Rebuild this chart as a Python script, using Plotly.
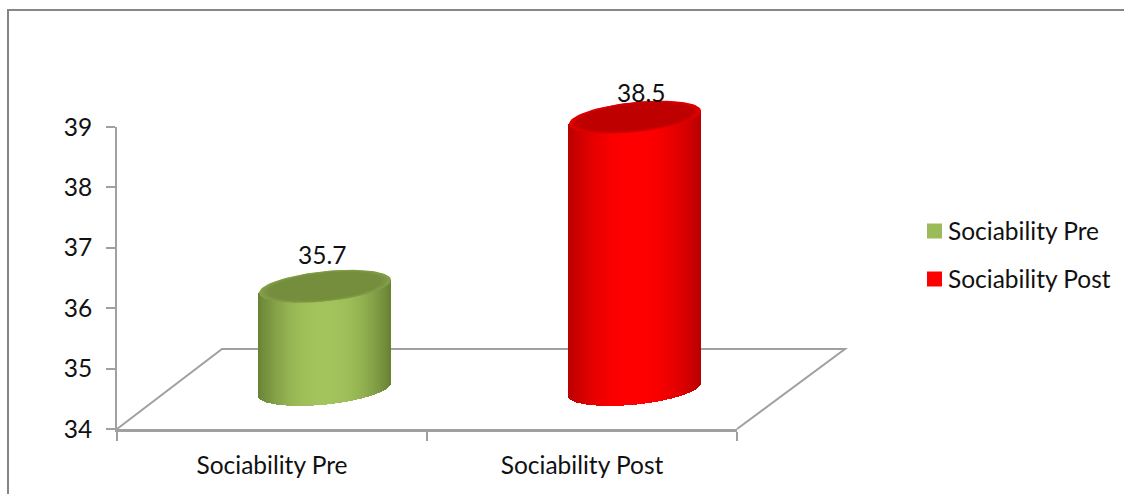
import numpy as np
import plotly.graph_objects as go

# Chart data
categories = ["Sociability Pre", "Sociability Post"]
values = [35.7, 38.5]
y_ticks = [34, 35, 36, 37, 38, 39]

# Colour ramps for the cylinders: edge, centre, lid rim, lid centre
SERIES_STYLE = [
    dict(edge=(104, 130, 52), mid=(163, 196, 92), rim=(132, 160, 72), lid=(117, 142, 62), swatch="#9bbb59"),
    dict(edge=(185, 0, 0), mid=(255, 0, 0), rim=(226, 0, 0), lid=(190, 0, 0), swatch="#ff0000"),
]

W, H = 1124, 494
FONT = "Lato"
FS = 24.5
TEXT = "#111111"
AXIS = "#a0a0a0"

# Front plane of the chart, in pixels
LEFT, RIGHT, BASE, TOP = 117, 737, 429, 127
PX_Y = (BASE - TOP) / 5
PX_X = (RIGHT - LEFT) / 2

# Offset of the mid-depth plane the cylinders stand on
MID_DX, MID_DY = 53, 40
# Floor depth
FLOOR_DX, FLOOR_DY = 105, 80

# Cylinder proportions in data units
HALF_W = 66 / PX_X
ELL_H = 15.2 / PX_Y
ELL_SKEW = 6.5 / PX_Y
N_STRIPS = 131


def ellipse(cx, cy, scale=1.0):
    t = np.linspace(0, 2 * np.pi, 90)
    return (
        cx + scale * HALF_W * np.cos(t),
        cy + scale * (ELL_H * np.sin(t) + ELL_SKEW * np.cos(t)),
    )


def mix(a, b, f):
    return "rgb(%d,%d,%d)" % tuple(round(p + (q - p) * f) for p, q in zip(a, b))


def paper_x(px):
    return px / W


def paper_y(py):
    return 1 - py / H


fig = go.Figure()

# Cylinders
for i, (value, style) in enumerate(zip(values, SERIES_STYLE)):
    u = np.linspace(-1, 1, N_STRIPS) * (1 - 1 / N_STRIPS)
    xs = i + u * HALF_W
    # Lower edge follows the front half of the base ellipse, upper edge the lid's long axis
    root = np.sqrt(np.clip(1 - u ** 2, 0, 1))
    bottoms = 34 - ELL_H * root + ELL_SKEW * u
    tops = value + ELL_SKEW * u
    shade = np.clip(1 - np.abs(u) ** 2.2, 0, 1)
    fig.add_trace(go.Bar(
        x=xs, y=tops - bottoms, base=bottoms,
        width=2.3 * HALF_W / N_STRIPS,
        marker=dict(color=[mix(style["edge"], style["mid"], s) for s in shade], line=dict(width=0)),
        hoverinfo="skip", showlegend=False, xaxis="x2", yaxis="y2",
    ))
    # Lid, darkening from the rim towards the middle
    for k, scale in enumerate(np.linspace(1, 0.86, 8)):
        ex, ey = ellipse(i, value, scale)
        fig.add_trace(go.Scatter(
            x=ex, y=ey, mode="lines", fill="toself", line=dict(width=0),
            fillcolor=mix(style["rim"], style["lid"], k / 7),
            hoverinfo="skip", showlegend=False, xaxis="x2", yaxis="y2",
        ))

# Invisible trace keeps the front axes alive
fig.add_trace(go.Scatter(x=[None], y=[None], showlegend=False, hoverinfo="skip", xaxis="x", yaxis="y"))

# Value labels
label_shift = [(-3, 32), (6, 25)]
annotations = [
    dict(x=i, y=v, xref="x2", yref="y2", text=str(v), showarrow=False,
         xshift=dx, yshift=dy, font=dict(family=FONT, size=FS, color=TEXT))
    for i, (v, (dx, dy)) in enumerate(zip(values, label_shift))
]

# Legend on the right: colour key plus name
LEGEND_ROWS = [231, 279]
shapes = []
for name, style, row in zip(categories, SERIES_STYLE, LEGEND_ROWS):
    shapes.append(dict(
        type="rect", xref="paper", yref="paper",
        x0=paper_x(927), x1=paper_x(942), y0=paper_y(row + 7.5), y1=paper_y(row - 7.5),
        fillcolor=style["swatch"], line=dict(width=0),
    ))
    annotations.append(dict(
        x=paper_x(946), y=paper_y(row - 1), xref="paper", yref="paper", text=name,
        showarrow=False, xanchor="left", yanchor="middle",
        font=dict(family=FONT, size=FS, color=TEXT),
    ))

# Floor outline sits underneath the cylinders
floor_path = (
    f"M {paper_x(LEFT)} {paper_y(BASE)} "
    f"L {paper_x(LEFT + FLOOR_DX)} {paper_y(BASE - FLOOR_DY)} "
    f"L {paper_x(RIGHT + FLOOR_DX + 3)} {paper_y(BASE - FLOOR_DY)} "
    f"L {paper_x(RIGHT)} {paper_y(BASE)}"
)
shapes.append(dict(type="path", xref="paper", yref="paper", layer="below",
                   path=floor_path, line=dict(color=AXIS, width=2)))
# Outer chart border: top and left edges only
shapes.append(dict(type="path", xref="paper", yref="paper",
                   path=f"M {paper_x(8)} 0 L {paper_x(8)} {paper_y(10)} L 1 {paper_y(10)}",
                   line=dict(color="#868686", width=2)))

Y2_LOW, Y2_HIGH = 33, 40
mid_base = BASE - MID_DY
x0, x1 = -0.5, 1.5

fig.update_layout(
    width=W, height=H, autosize=False,
    margin=dict(l=0, r=0, t=0, b=0, autoexpand=False),
    paper_bgcolor="white", plot_bgcolor="rgba(0,0,0,0)",
    barmode="overlay", bargap=0, showlegend=False,
    annotations=annotations,
    font=dict(family=FONT, size=FS, color=TEXT),
    xaxis=dict(
        domain=[LEFT / W, RIGHT / W], range=[x0, x1],
        tickvals=[0, 1], ticktext=categories, ticks="", showgrid=False, zeroline=False,
        showline=True, linecolor=AXIS, linewidth=2.5, ticklabelstandoff=13,
        minor=dict(tickvals=[-0.5, 0.5, 1.5], ticks="outside", ticklen=9, tickcolor=AXIS, tickwidth=2, showgrid=False),
        anchor="y", tickfont=dict(family=FONT, size=FS, color=TEXT),
    ),
    yaxis=dict(
        domain=[(H - BASE) / H, (H - TOP) / H], range=[34, 39],
        tickvals=y_ticks, ticks="outside", ticklen=9, tickcolor=AXIS, tickwidth=2,
        showgrid=False, zeroline=False, showline=True, linecolor=AXIS, linewidth=2,
        ticklabelstandoff=9, anchor="x", tickfont=dict(family=FONT, size=FS, color=TEXT),
    ),
    xaxis2=dict(
        domain=[(LEFT + MID_DX) / W, (RIGHT + MID_DX) / W], range=[x0, x1],
        visible=False, anchor="y2",
    ),
    yaxis2=dict(
        domain=[(H - mid_base - (34 - Y2_LOW) * PX_Y) / H, (H - mid_base + (Y2_HIGH - 34) * PX_Y) / H],
        range=[Y2_LOW, Y2_HIGH], visible=False, anchor="x2",
    ),
    shapes=shapes,
)

fig.write_html("out.html", config=dict(displayModeBar=False))
